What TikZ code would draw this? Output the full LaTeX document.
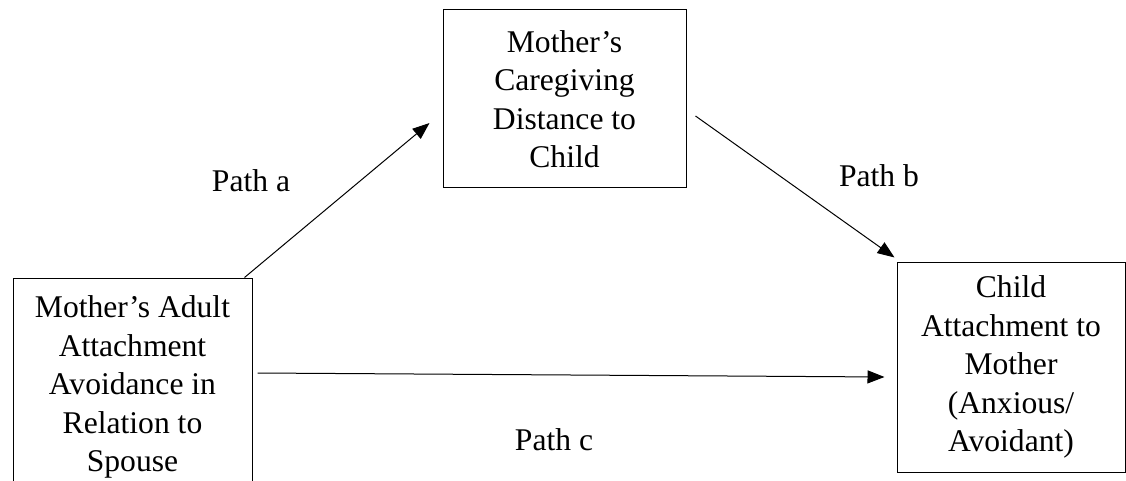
\documentclass[tikz,border=0pt]{standalone}
\usepackage{fontspec}
\setmainfont{Liberation Serif}
\usetikzlibrary{arrows.meta,calc}
\begin{document}
\begin{tikzpicture}[x=1pt,y=-1pt,
  every node/.style={font=\fontsize{31.6pt}{38.5pt}\selectfont},
  varbox/.style={draw,line width=1pt,align=center,inner sep=0pt},
  pathlabel/.style={anchor=base},
  link/.style={line width=1pt,-{Triangle[length=17pt,width=13pt]}}]
\useasboundingbox (0,0) rectangle (1126,481);
\clip (0,0) rectangle (1126,481);
% boxes
\node[varbox,minimum width=239pt,minimum height=218pt] (avoid) at (132.5,387)
  {Mother’s Adult\\Attachment\\Avoidance in\\Relation to\\Spouse};
\node[varbox,minimum width=243pt,minimum height=178pt] (care) at (564.5,99)
  {Mother’s\\Caregiving\\Distance to\\Child};
\node[varbox,minimum width=228pt,minimum height=210pt] (child) at (1011,367)
  {Child\\Attachment to\\Mother\\(Anxious/\\Avoidant)};
% connectors
\coordinate (aS) at ($(avoid.north east)+(-8,0)$);
\coordinate (aE) at ($(care.west)+(-13,24)$);
\coordinate (bS) at ($(care.east)+(9,17)$);
\coordinate (bE) at ($(child.north west)+(-2,-4)$);
\coordinate (cS) at ($(avoid.east)+(5,-14)$);
\coordinate (cE) at ($(child.west)+(-12,10)$);
\draw[link] (aS) -- (aE);
\draw[link] (bS) -- (bE);
\draw[link] (cS) -- (cE);
% labels
\node[pathlabel] (la) at (251,192) {Path a};
\node[pathlabel] (lb) at (879,186) {Path b};
\node[pathlabel] (lc) at (554,450) {Path c};
\end{tikzpicture}
\end{document}
